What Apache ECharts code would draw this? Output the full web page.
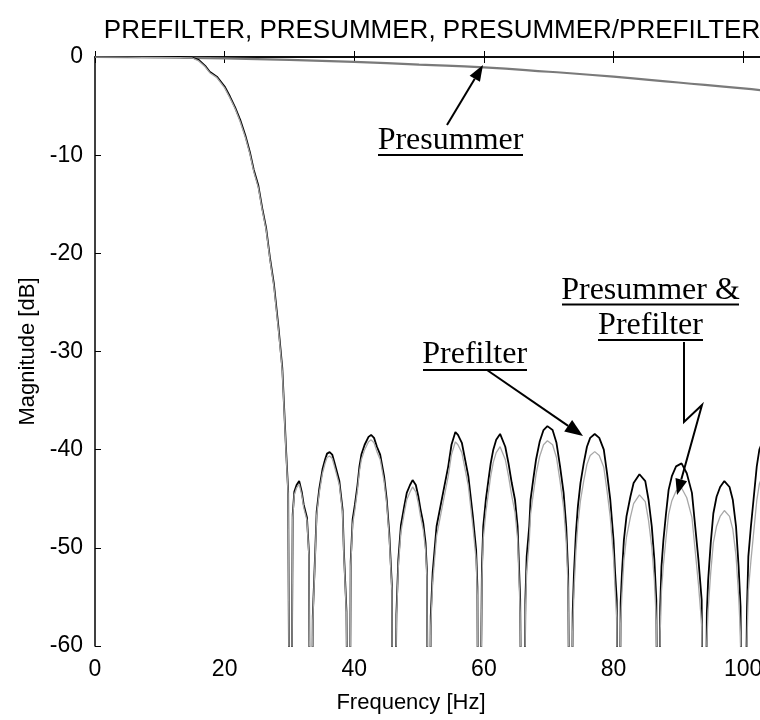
<!DOCTYPE html>
<html>
<head>
<meta charset="utf-8">
<script src="https://cdn.jsdelivr.net/npm/echarts@6/dist/echarts.min.js"></script>
<style>html,body{margin:0;padding:0;background:#fff}#c{width:760px;height:720px}</style>
</head>
<body>
<div id="c"></div>
<script>
// Frequency samples (Hz) shared by the prefilter and combined curves
const freq = [
  0, 5, 10, 13, 15, 16, 17, 17.7, 18.8, 20, 20.8, 21.6, 22.4, 23.2, 23.9, 24.5, 25.2, 25.8, 26.4, 27.0, 27.6, 28.3, 28.9, 29.2, 29.5, 29.8, 30.15,
  30.5, 30.75, 31.1, 31.5, 31.9, 32.2, 32.7, 33.0, 33.3,
  33.6, 33.95, 34.2, 34.6, 35.1, 35.5, 35.8, 36.2, 36.6, 36.9, 37.3, 37.7, 38.2, 38.4, 38.8, 39.2,
  39.45, 39.75, 40.1, 40.5, 40.8, 41.1, 41.6, 42.2, 42.6, 43.05, 43.5, 44.0, 44.6, 45.0, 45.4, 45.8, 46.0,
  46.5, 46.8, 47.2, 47.7, 48.1, 48.6, 49.0, 49.5, 49.9, 50.2, 50.65, 51.0, 51.2, 51.5,
  51.8, 52.1, 52.7, 53.7, 54.5, 55.0, 55.6, 56.0, 56.6, 57.6, 58.3, 58.8, 59.0, 59.2,
  59.7, 59.9, 60.3, 60.7, 61.05, 61.45, 61.9, 62.5, 63.3, 63.8, 64.3, 64.8, 65.2, 65.6, 66.0,
  66.4, 66.6, 67.0, 67.2, 67.6, 68.05, 68.6, 69.2, 69.8, 70.6, 71.2, 71.75, 72.3, 72.7, 73.0, 73.4,
  73.7, 73.9, 74.2, 74.5, 74.9, 75.4, 75.9, 76.4, 77.1, 77.8, 78.5, 79.0, 79.5, 80.0, 80.25, 80.5, 80.8,
  81.1, 81.3, 81.6, 82.0, 82.6, 83.1, 84.0, 84.9, 85.4, 85.9, 86.3, 86.6, 87.0,
  87.2, 87.4, 87.7, 88.1, 88.5, 89.0, 89.65, 90.5, 91.3, 92.1, 92.6, 93.1, 93.6, 94.0,
  94.4, 94.6, 95.0, 95.4, 95.9, 96.45, 97.1, 97.9, 98.4, 98.9, 99.3, 99.6, 100.0,
  100.6, 100.8, 101.2, 101.6, 102.1, 102.5, 103.2, 104.0, 105.0
];
// Prefilter magnitude (dB); -90 marks a null (drawn clipped at the -60 floor)
const prefilter = [
  0, 0, 0, 0, -0.05, -0.3, -0.9, -1.5, -2.0, -3.0, -4.0, -5.1, -6.4, -8.0, -9.7, -11.5, -13.1, -15.4, -17.4, -20.5, -23.1, -27.5, -31.7, -36.0, -40.3, -44.2, -90,
  -46.6, -44.3, -43.6, -43.2, -44.3, -45.6, -46.9, -50.4, -90,
  -57, -50.9, -46.3, -44.0, -42.0, -41.0, -40.4, -40.25, -40.5, -41.2, -42.2, -43.2, -46.1, -50.4, -56.5, -90,
  -51.4, -47.1, -45.6, -43.6, -41.7, -40.5, -39.5, -38.7, -38.5, -38.8, -39.7, -40.5, -42.7, -45.0, -48.5, -53.8, -90,
  -56.8, -51.2, -47.7, -45.8, -44.4, -43.6, -43.1, -43.6, -44.8, -46.0, -47.5, -49.5, -52.2, -90,
  -57, -52.5, -47.8, -44.4, -41.7, -39.5, -38.2, -38.5, -39.3, -42.7, -46.8, -50.2, -54, -90,
  -51.9, -47.8, -45.1, -43.1, -41.4, -40.0, -39.0, -38.4, -39.7, -41.4, -43.4, -45.1, -47.8, -55.3, -90,
  -55.3, -50.9, -47.8, -45.1, -43.1, -41.0, -39.2, -38.0, -37.6, -38.0, -39.3, -41.7, -44.4, -47.8, -52.6, -90,
  -56.6, -52.6, -48.5, -45.8, -43.4, -41.4, -39.7, -38.8, -38.4, -38.8, -40.0, -42.4, -45.1, -49.2, -52.6, -55.3, -90,
  -55.6, -52.6, -49.2, -46.8, -44.8, -43.4, -42.5, -43.2, -45.1, -47.8, -51.2, -55.3, -90,
  -56, -51.9, -49.2, -46.5, -44.1, -42.7, -41.7, -41.4, -42.4, -44.4, -47.8, -51.2, -55.3, -90,
  -56.6, -53.3, -49.5, -46.5, -44.8, -43.8, -43.2, -43.8, -45.1, -47.8, -51.9, -56, -90,
  -56, -50.9, -47.8, -45.1, -41.7, -40.0, -38.8, -38.3, -39.0
];
// Presummer & Prefilter combined magnitude (dB)
const combined = [
  0, -0.01, -0.05, -0.07, -0.1, -0.4, -1.0, -1.6, -2.1, -3.15, -4.15, -5.25, -6.6, -8.2, -9.9, -11.7, -13.3, -15.6, -17.6, -20.7, -23.4, -27.8, -32.0, -36.3, -40.6, -44.5, -90,
  -46.9, -44.6, -43.9, -43.5, -44.6, -45.9, -47.2, -50.7, -90,
  -57.4, -51.3, -46.7, -44.4, -42.4, -41.4, -40.8, -40.65, -40.9, -41.6, -42.6, -43.6, -46.5, -50.8, -56.9, -90,
  -51.9, -47.6, -46.1, -44.1, -42.2, -41.0, -40.0, -39.2, -39.0, -39.3, -40.2, -41.0, -43.2, -45.5, -49.0, -54.3, -90,
  -57.5, -51.9, -48.4, -46.5, -45.1, -44.3, -43.8, -44.3, -45.5, -46.7, -48.2, -50.2, -52.9, -90,
  -58, -53.5, -48.8, -45.4, -42.7, -40.5, -39.2, -39.5, -40.3, -43.7, -47.8, -51.2, -55, -90,
  -53.2, -49.1, -46.4, -44.4, -42.7, -41.3, -40.3, -39.7, -41.0, -42.7, -44.7, -46.4, -49.1, -56.6, -90,
  -56.8, -52.4, -49.3, -46.6, -44.6, -42.5, -40.7, -39.5, -39.1, -39.5, -40.8, -43.2, -45.9, -49.3, -54.1, -90,
  -58.4, -54.4, -50.3, -47.6, -45.2, -43.2, -41.5, -40.6, -40.2, -40.6, -41.8, -44.2, -46.9, -51.0, -54.4, -57.1, -90,
  -57.7, -54.7, -51.3, -48.9, -46.9, -45.5, -44.6, -45.3, -47.2, -49.9, -53.3, -57.4, -90,
  -58.5, -54.4, -51.7, -49.0, -46.6, -45.2, -44.2, -43.9, -44.9, -46.9, -50.3, -53.7, -57.8, -90,
  -59.6, -56.3, -52.5, -49.5, -47.8, -46.8, -46.2, -46.8, -48.1, -50.8, -54.9, -59.0, -90,
  -59.5, -54.4, -51.3, -48.6, -45.2, -43.5, -42.3, -41.8, -42.5
];
// Presummer response
const presumFreq = [0, 10, 20, 30, 40, 50, 60, 70, 80, 90, 100, 110];
const presummer = [0, -0.05, -0.15, -0.3, -0.5, -0.78, -1.05, -1.5, -2.0, -2.6, -3.2, -3.9];

// Axis ranges (the plot is cut at the right edge of the picture, around 102.6 Hz)
const xTicks = { min: 0, max: 102.6, interval: 20 };
const yTicks = { min: -60, max: 0, interval: 10 };

const titleText = 'PREFILTER, PRESUMMER, PRESUMMER/PREFILTER';
const xName = 'Frequency [Hz]';
const yName = 'Magnitude [dB]';

const n = Math.min(freq.length, prefilter.length, combined.length);
const preData = [], combData = [];
for (let i = 0; i < n; i++) { preData.push([freq[i], prefilter[i]]); combData.push([freq[i], combined[i]]); }
const presData = presumFreq.map((f, i) => [f, presummer[i]]);

const SANS = "'Liberation Sans', Arial, sans-serif";
const SERIF = "'Liberation Serif', 'Times New Roman', serif";

const chart = echarts.init(document.getElementById('c'), null, { renderer: 'canvas' });

function arrowHead(tip, from, len, half) {
  const dx = tip[0] - from[0], dy = tip[1] - from[1];
  const L = Math.hypot(dx, dy), ux = dx / L, uy = dy / L;
  const bx = tip[0] - ux * len, by = tip[1] - uy * len;
  return { base: [bx, by], pts: [tip, [bx - uy * half, by + ux * half], [bx + uy * half, by - ux * half]] };
}
function annotText(txt, cx, y) {
  return { type: 'text', style: { text: txt, x: cx, y: y, align: 'center', verticalAlign: 'middle', font: '32px ' + SERIF, fill: '#000' }, z: 100 };
}
function uline(x1, x2, y) {
  return { type: 'line', shape: { x1: x1, y1: y, x2: x2, y2: y }, style: { stroke: '#000', lineWidth: 2 }, z: 100 };
}
const a1 = arrowHead([483, 65], [447, 125], 16, 6);
const a2 = arrowHead([583, 436], [487, 370], 18, 7);
const a3 = arrowHead([677, 495], [702, 405], 16, 6);

const graphics = [
  annotText('Presummer', 450.5, 141), uline(378, 523, 155),
  { type: 'line', shape: { x1: 447, y1: 125, x2: a1.base[0], y2: a1.base[1] }, style: { stroke: '#000', lineWidth: 2 }, z: 100 },
  { type: 'polygon', shape: { points: a1.pts }, style: { fill: '#000' }, z: 100 },
  annotText('Prefilter', 474.7, 355), uline(423, 527, 370),
  { type: 'line', shape: { x1: 487, y1: 370, x2: a2.base[0], y2: a2.base[1] }, style: { stroke: '#000', lineWidth: 2 }, z: 100 },
  { type: 'polygon', shape: { points: a2.pts }, style: { fill: '#000' }, z: 100 },
  annotText('Presummer &', 650.5, 291), uline(562, 739, 304.5),
  annotText('Prefilter', 650.5, 326), uline(598, 703, 340),
  { type: 'polyline', shape: { points: [[684, 342], [684, 422], [702, 405], a3.base] }, style: { stroke: '#000', lineWidth: 2, fill: null }, z: 100 },
  { type: 'polygon', shape: { points: a3.pts }, style: { fill: '#000' }, z: 100 }
];

const axisCommon = {
  type: 'value', min: xTicks.min, max: xTicks.max, interval: xTicks.interval,
  axisLine: { show: true, lineStyle: { color: '#000', width: 1.5 } },
  axisTick: { show: true, inside: true, length: 6, lineStyle: { color: '#000', width: 1 } },
  splitLine: { show: false }
};

chart.setOption({
  animation: false,
  backgroundColor: '#fff',
  title: { text: titleText, left: 427, top: 13, textAlign: 'center',
    textStyle: { fontFamily: SANS, fontSize: 26, fontWeight: 'normal', color: '#000' } },
  grid: { left: 95, top: 57, right: 0, height: 589, containLabel: false, outerBoundsMode: 'none' },
  xAxis: [
    Object.assign({}, axisCommon, {
      position: 'bottom',
      axisLabel: { show: true, fontFamily: SANS, fontSize: 23, color: '#000', margin: 12, showMaxLabel: false },
      name: xName, nameLocation: 'middle', nameGap: 46,
      nameTextStyle: { fontFamily: SANS, fontSize: 22, color: '#000', padding: [0, 33, 0, 0] }
    }),
    Object.assign({}, axisCommon, { position: 'top', axisLabel: { show: false } })
  ],
  yAxis: {
    type: 'value', min: yTicks.min, max: yTicks.max, interval: yTicks.interval,
    axisLine: { show: true, lineStyle: { color: '#000', width: 1.5 } },
    axisTick: { show: true, inside: true, length: 6, lineStyle: { color: '#000', width: 1 } },
    splitLine: { show: false },
    axisLabel: { fontFamily: SANS, fontSize: 23, color: '#000', margin: 12 },
    name: yName, nameLocation: 'middle', nameGap: 54,
    nameTextStyle: { fontFamily: SANS, fontSize: 22, color: '#000' }
  },
  series: [
    { name: 'Presummer', type: 'line', data: presData, smooth: true, showSymbol: false, clip: true,
      lineStyle: { color: '#7a7a7a', width: 2.2 }, z: 3 },
    { name: 'Prefilter', type: 'line', data: preData, showSymbol: false, clip: true,
      lineStyle: { color: '#000', width: 1.8 }, z: 4 },
    { name: 'Presummer & Prefilter', type: 'line', data: combData, showSymbol: false, clip: true,
      lineStyle: { color: '#a8a8a8', width: 1.3 }, z: 5 }
  ],
  graphic: graphics
});
</script>
</body>
</html>
